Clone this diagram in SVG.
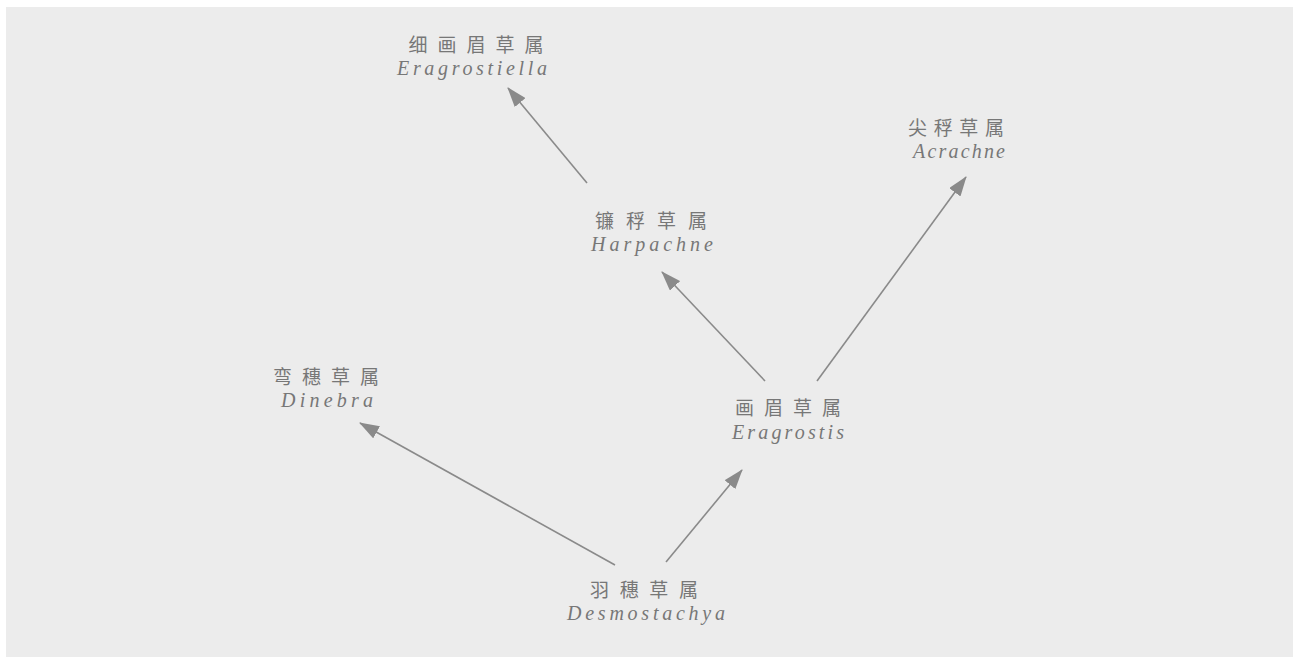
<svg xmlns="http://www.w3.org/2000/svg" width="1300" height="657" viewBox="0 0 1300 657">
<style>
.zh{font-family:"Noto Sans CJK SC","Noto Sans CJK JP",sans-serif;font-size:19px;fill:#777777;text-anchor:middle}
.la{font-family:"Liberation Serif","DejaVu Serif",serif;font-style:italic;font-size:20px;fill:#777777;text-anchor:middle}
.edge{stroke:#8a8a8a;stroke-width:1.6;fill:none;marker-end:url(#ah)}
</style>
<defs>
<marker id="ah" viewBox="0 0 20 14" refX="19" refY="7" markerWidth="20" markerHeight="14" markerUnits="userSpaceOnUse" orient="auto">
<path d="M0,0 L20,7 L0,14 Z" fill="#8a8a8a"/>
</marker>
</defs>
<rect width="1300" height="657" fill="#ffffff"/>
<rect x="6" y="7" width="1287" height="650" fill="#ececec"/>
<g id="connectors">
<line class="edge" x1="615" y1="565" x2="360" y2="423"/>
<line class="edge" x1="666" y1="562" x2="742" y2="470"/>
<line class="edge" x1="765" y1="381" x2="662" y2="272"/>
<line class="edge" x1="817" y1="381" x2="966" y2="177"/>
<line class="edge" x1="587" y1="183" x2="508" y2="88"/>
</g>
<g id="eragrostiella">
<text class="zh" x="476" y="52" textLength="135" lengthAdjust="spacing">细画眉草属</text>
<text class="la" x="472" y="75" textLength="150" lengthAdjust="spacing">Eragrostiella</text>
</g>
<g id="acrachne">
<text class="zh" x="956" y="135" textLength="96" lengthAdjust="spacing">尖稃草属</text>
<text class="la" x="959" y="158" textLength="92" lengthAdjust="spacing">Acrachne</text>
</g>
<g id="harpachne">
<text class="zh" x="651" y="228" textLength="112" lengthAdjust="spacing">镰稃草属</text>
<text class="la" x="652" y="251" textLength="122" lengthAdjust="spacing">Harpachne</text>
</g>
<g id="dinebra">
<text class="zh" x="326" y="384" textLength="106" lengthAdjust="spacing">弯穗草属</text>
<text class="la" x="327" y="407" textLength="92" lengthAdjust="spacing">Dinebra</text>
</g>
<g id="eragrostis">
<text class="zh" x="788" y="415" textLength="106" lengthAdjust="spacing">画眉草属</text>
<text class="la" x="788" y="439" textLength="112" lengthAdjust="spacing">Eragrostis</text>
</g>
<g id="desmostachya">
<text class="zh" x="644" y="597" textLength="108" lengthAdjust="spacing">羽穗草属</text>
<text class="la" x="646" y="620" textLength="158" lengthAdjust="spacing">Desmostachya</text>
</g>
</svg>
